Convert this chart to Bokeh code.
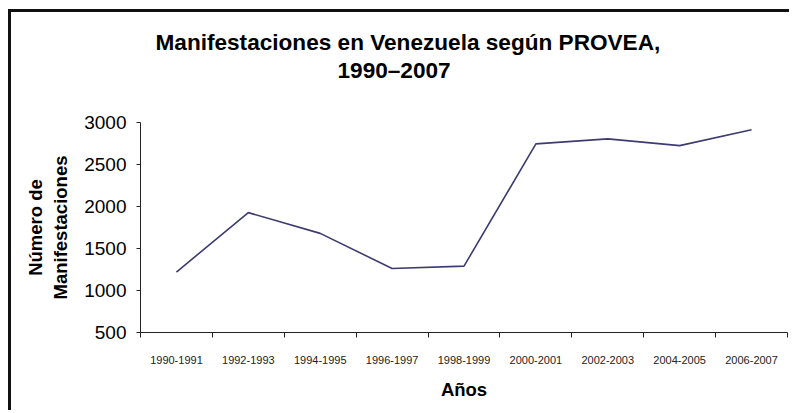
from bokeh.plotting import figure
from bokeh.models import Range1d, FixedTicker, Title
from bokeh.embed import file_html
from bokeh.resources import INLINE

periods = ["1990-1991", "1992-1993", "1994-1995", "1996-1997", "1998-1999",
           "2000-2001", "2002-2003", "2004-2005", "2006-2007"]
manifestaciones = [1220, 1927, 1680, 1262, 1290, 2745, 2805, 2725, 2913]
y_ticks = [500, 1000, 1500, 2000, 2500, 3000]
title_lines = ["Manifestaciones en Venezuela seg\u00fan PROVEA,", "1990\u20132007"]

FONT = "Liberation Sans"
n = len(periods)
x_centers = [i + 0.5 for i in range(n)]
x_bounds = list(range(n + 1))

title1 = Title(text=title_lines[0], align="left", text_font=FONT,
               text_font_size="22.6px", text_font_style="bold",
               text_color="#000000", offset=15, standoff=0)

p = figure(width=781, height=401, output_backend="svg", toolbar_location=None,
           x_range=Range1d(0, n), y_range=Range1d(500, 3000), title=title1,
           min_border_left=129, min_border_right=5, min_border_top=110,
           min_border_bottom=81, background_fill_color="white",
           border_fill_color="white", outline_line_color=None,
           styles={"margin-left": "8px", "margin-top": "9px",
                   "border-left": "3px solid #111111", "border-top": "3px solid #111111"})

# spacer between the title block and the plot frame
p.add_layout(Title(text=" ", text_font=FONT, text_font_size="1px", standoff=35), "above")
p.add_layout(Title(text=title_lines[1], align="left", text_font=FONT,
                   text_font_size="22.6px", text_font_style="bold", text_color="#000000",
                   offset=197, standoff=3), "above")

p.line(x_centers, manifestaciones, line_color="#3c3c70", line_width=1.6)

p.grid.visible = False

xa = p.xaxis[0]
xa.ticker = FixedTicker(ticks=x_centers, minor_ticks=x_bounds)
xa.major_label_overrides = {c: lab for c, lab in zip(x_centers, periods)}
xa.major_tick_out = 0
xa.major_tick_in = 0
xa.minor_tick_out = 5
xa.minor_tick_in = 0
xa.minor_tick_line_color = "#222222"
xa.axis_line_color = "#222222"
xa.major_label_standoff = 18
xa.major_label_text_font = FONT
xa.major_label_text_font_size = "11px"
xa.major_label_text_color = "#222222"
xa.axis_label = "A\u00f1os"
xa.axis_label_text_font = FONT
xa.axis_label_text_font_size = "18.5px"
xa.axis_label_text_font_style = "bold"
xa.axis_label_text_color = "#000000"
xa.axis_label_standoff = 12

ya = p.yaxis[0]
ya.ticker = FixedTicker(ticks=y_ticks, minor_ticks=[])
ya.major_tick_out = 4
ya.major_tick_in = 0
ya.major_tick_line_color = "#222222"
ya.axis_line_color = "#222222"
ya.major_label_standoff = 10
ya.major_label_text_font = FONT
ya.major_label_text_font_size = "19px"
ya.major_label_text_color = "#000000"
ya.axis_label = "N\u00famero de\nManifestaciones"
ya.axis_label_text_font = FONT
ya.axis_label_text_font_size = "18.5px"
ya.axis_label_text_font_style = "bold"
ya.axis_label_text_color = "#000000"
ya.axis_label_standoff = 10

open("out.html", "w").write(file_html(p, INLINE))
